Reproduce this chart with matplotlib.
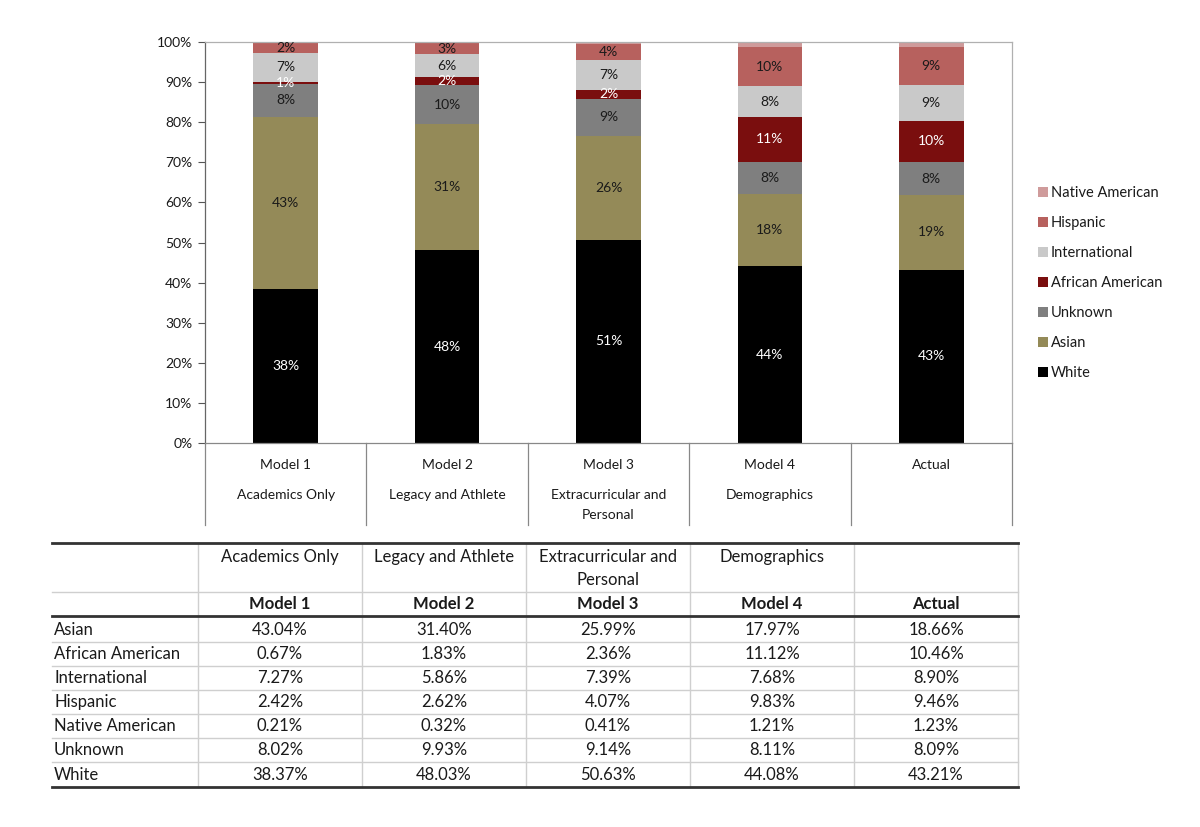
import matplotlib
matplotlib.use("Agg")
import matplotlib.pyplot as plt
from matplotlib.lines import Line2D
import numpy as np

plt.rcParams['font.family'] = ['Lato', 'DejaVu Sans']

# ---------------- data ----------------
models = ["Model 1", "Model 2", "Model 3", "Model 4", "Actual"]
subtitles = [["Academics Only"], ["Legacy and Athlete"], ["Extracurricular and", "Personal"], ["Demographics"], []]
groups_stack = ["White", "Asian", "Unknown", "African American", "International", "Hispanic", "Native American"]

white = [38.37, 48.03, 50.63, 44.08, 43.21]
asian = [43.04, 31.40, 25.99, 17.97, 18.66]
unknown = [8.02, 9.93, 9.14, 8.11, 8.09]
african_american = [0.67, 1.83, 2.36, 11.12, 10.46]
international = [7.27, 5.86, 7.39, 7.68, 8.90]
hispanic = [2.42, 2.62, 4.07, 9.83, 9.46]
native_american = [0.21, 0.32, 0.41, 1.21, 1.23]

series = {
    "White": white, "Asian": asian, "Unknown": unknown,
    "African American": african_american, "International": international,
    "Hispanic": hispanic, "Native American": native_american,
}
colors = {
    "White": "#000000", "Asian": "#948a58", "Unknown": "#7f7f7f",
    "African American": "#7a0e0e", "International": "#c9c9c9",
    "Hispanic": "#b7615e", "Native American": "#cf9b9b",
}
label_colors = {
    "White": "white", "Asian": "#1a1a1a", "Unknown": "#1a1a1a",
    "African American": "white", "International": "#1a1a1a",
    "Hispanic": "#1a1a1a", "Native American": None,
}
yticks = [0, 10, 20, 30, 40, 50, 60, 70, 80, 90, 100]

table_rows = ["Asian", "African American", "International", "Hispanic", "Native American", "Unknown", "White"]
table_headers = [["Academics Only"], ["Legacy and Athlete"], ["Extracurricular and", "Personal"], ["Demographics"], []]

# ---------------- figure ----------------
W, H = 1200, 827
fig = plt.figure(figsize=(12, 8.27), dpi=100)
fig.patch.set_facecolor("white")

L, R, T, B = 205, 1012, 42, 443
ax = fig.add_axes([L / W, 1 - B / H, (R - L) / W, (B - T) / H])

x = np.arange(len(models))
bottom = np.zeros(len(models))
bars = {}
for g in groups_stack:
    vals = np.array(series[g])
    bars[g] = ax.bar(x, vals, 0.40, bottom=bottom, color=colors[g], label=g, linewidth=0)
    lc = label_colors[g]
    if lc is not None:
        for xi, v, b0 in zip(x, vals, bottom):
            ax.text(xi, b0 + v / 2, f"{v:.0f}%", ha="center", va="center",
                    fontsize=10, color=lc)
    bottom += vals

ax.set_xlim(-0.5, len(models) - 0.5)
ax.set_ylim(0, 100)
ax.set_yticks(yticks)
ax.set_yticklabels([f"{t}%" for t in yticks], fontsize=10, color="#1a1a1a")
ax.set_xticks([])
ax.tick_params(axis="y", length=5, color="#555555", width=0.8, pad=4)
for s in ["top", "right"]:
    ax.spines[s].set_color("#b0b0b0")
    ax.spines[s].set_linewidth(0.9)
ax.spines["left"].set_color("#666666")
ax.spines["left"].set_linewidth(0.9)
ax.spines["bottom"].set_color("#888888")
ax.spines["bottom"].set_linewidth(0.9)

# category label area below the axis
trans = ax.get_xaxis_transform()
ph = B - T
ext = -(525 - B) / ph
for xb in np.arange(-0.5, len(models), 1.0):
    ax.add_line(Line2D([xb, xb], [0, ext], transform=trans, color="#888888",
                       lw=0.9, clip_on=False))
sub_y = [495, 515]
for xi, m, s in zip(x, models, subtitles):
    ax.text(xi, -(465 - B) / ph, m, transform=trans, ha="center", va="center",
            fontsize=10, color="#1a1a1a")
    for line, yy in zip(s, sub_y):
        ax.text(xi, -(yy - B) / ph, line, transform=trans, ha="center", va="center",
                fontsize=10, color="#1a1a1a")

# legend
handles = [bars[g] for g in reversed(groups_stack)]
leg = fig.legend(handles, list(reversed(groups_stack)), loc="upper left",
                 bbox_to_anchor=(1032 / W, 1 - 180 / H), frameon=False,
                 fontsize=10.5, handlelength=0.7, handleheight=0.7,
                 handletextpad=0.2, labelspacing=1.1, borderaxespad=0)
for t in leg.get_texts():
    t.set_color("#1a1a1a")

# ---------------- table ----------------
tax = fig.add_axes([0, 0, 1, 1])
tax.set_xlim(0, W)
tax.set_ylim(H, 0)
tax.axis("off")

col_edges = [198, 362, 526, 690, 854, 1018]
tab_left = 52
row_y = [630, 654, 678, 702, 726, 750, 775]
row_lines = [642, 666, 690, 714, 738, 762]
light = "#cfcfcf"
dark = "#333333"

for xe in col_edges:
    tax.plot([xe, xe], [543, 787], color=light, lw=1.0)
tax.plot([tab_left, col_edges[-1]], [592, 592], color=light, lw=1.0)
for yl in row_lines:
    tax.plot([tab_left, col_edges[-1]], [yl, yl], color=light, lw=1.0)
tax.plot([tab_left, col_edges[-1]], [543, 543], color=dark, lw=2.0)
tax.plot([tab_left, col_edges[-1]], [616, 616], color=dark, lw=2.0)
tax.plot([tab_left, col_edges[-1]], [787, 787], color=dark, lw=2.0)

centers = [(a + b) / 2 for a, b in zip(col_edges[:-1], col_edges[1:])]
head_y = [557, 580]
for c, h, m in zip(centers, table_headers, models):
    for line, yy in zip(h, head_y):
        tax.text(c, yy, line, ha="center", va="center", fontsize=12, color="#1a1a1a")
    tax.text(c, 604, m, ha="center", va="center", fontsize=12, color="#1a1a1a",
             fontweight="bold")

for r, yy in zip(table_rows, row_y):
    tax.text(54, yy, r, ha="left", va="center", fontsize=12, color="#1a1a1a")
    for c, v in zip(centers, series[r]):
        tax.text(c, yy, f"{v:.2f}%", ha="center", va="center", fontsize=12,
                 color="#1a1a1a")

fig.savefig("out.png", dpi=100, facecolor="white")
